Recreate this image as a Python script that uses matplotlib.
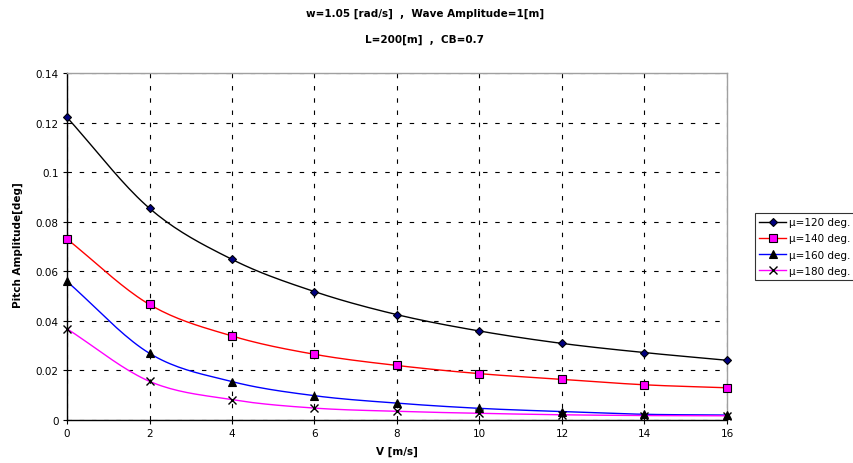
import numpy as np
import matplotlib
matplotlib.use("Agg")
import matplotlib.pyplot as plt

plt.rcParams['font.family'] = ['DejaVu Sans']

speeds = [0, 2, 4, 6, 8, 10, 12, 14, 16]
mu120 = [0.1221, 0.0854, 0.0648, 0.0518, 0.0425, 0.0359, 0.0309, 0.0272, 0.0241]
mu140 = [0.0730, 0.0466, 0.0339, 0.0265, 0.0220, 0.0187, 0.0164, 0.0142, 0.0130]
mu160 = [0.0559, 0.0269, 0.0155, 0.0098, 0.0068, 0.0047, 0.0034, 0.0023, 0.0020]
mu180 = [0.0368, 0.0156, 0.0082, 0.0048, 0.0035, 0.0027, 0.0021, 0.0018, 0.0017]
labels = ['μ=120 deg.', 'μ=140 deg.', 'μ=160 deg.', 'μ=180 deg.']
title_lines = ['w=1.05 [rad/s]  ,  Wave Amplitude=1[m]', 'L=200[m]  ,  CB=0.7']


def smooth(x, y, n=20):
    x = np.asarray(x, float); y = np.asarray(y, float)
    px = np.concatenate([[2 * x[0] - x[1]], x, [2 * x[-1] - x[-2]]])
    py = np.concatenate([[2 * y[0] - y[1]], y, [2 * y[-1] - y[-2]]])
    xs, ys = [], []
    t = np.linspace(0, 1, n, endpoint=False)
    for i in range(1, len(px) - 2):
        for arr, out in ((px, xs), (py, ys)):
            p0, p1, p2, p3 = arr[i - 1], arr[i], arr[i + 1], arr[i + 2]
            out.extend(0.5 * ((2 * p1) + (-p0 + p2) * t + (2 * p0 - 5 * p1 + 4 * p2 - p3) * t ** 2
                              + (-p0 + 3 * p1 - 3 * p2 + p3) * t ** 3))
    xs.append(x[-1]); ys.append(y[-1])
    return xs, ys


fig = plt.figure(figsize=(8.54, 4.64), dpi=100)
ax = fig.add_axes([67 / 854, 1 - 421 / 464, 660 / 854, 347 / 464])

styles = [
    dict(color='black', marker='D', mfc='#000080', mec='black', ms=4.5),
    dict(color='red', marker='s', mfc='#ff00ff', mec='black', ms=6),
    dict(color='blue', marker='^', mfc='black', mec='black', ms=6),
    dict(color='#ff00ff', marker='x', mfc='black', mec='black', ms=5.5, mew=1.0),
]
for data, lab, st in zip([mu120, mu140, mu160, mu180], labels, styles):
    sx, sy = smooth(speeds, data)
    ax.plot(sx, sy, color=st['color'], lw=1.0, zorder=3)
    ax.plot(speeds, data, linestyle='none', marker=st['marker'], mfc=st['mfc'], mec=st['mec'],
            ms=st['ms'], mew=st.get('mew', 0.8), zorder=4, clip_on=False)
    ax.plot([], [], color=st['color'], lw=1.0, marker=st['marker'], mfc=st['mfc'],
            mec=st['mec'], ms=st['ms'], mew=st.get('mew', 0.8), label=lab)

ax.set_xlim(0, 16)
ax.set_ylim(0, 0.14)
ax.set_xticks(speeds)
ax.set_yticks(np.arange(0, 0.141, 0.02))
ax.set_yticklabels(['0', '0.02', '0.04', '0.06', '0.08', '0.1', '0.12', '0.14'])
ax.tick_params(labelsize=7.5, length=3, width=0.8, direction='out', pad=3)
ax.grid(True, color='black', linestyle=(0, (4, 7)), lw=0.8)
ax.set_axisbelow(True)
for s in ['left', 'bottom']:
    ax.spines[s].set_color('black')
    ax.spines[s].set_linewidth(1.0)
for s in ['top', 'right']:
    ax.spines[s].set_color('#a0a0a0')
    ax.spines[s].set_linewidth(1.0)

fig.text(18 / 854, 1 - 245 / 464, 'Pitch Amplitude[deg]', rotation=90, ha='center', va='center',
         fontsize=7.5, fontweight='bold')
fig.text(397 / 854, 1 - 452 / 464, 'V [m/s]', ha='center', va='center', fontsize=7.5, fontweight='bold')
fig.text(425 / 854, 1 - 14 / 464, title_lines[0], ha='center', va='center', fontsize=7.5, fontweight='bold')
fig.text(425 / 854, 1 - 40 / 464, title_lines[1], ha='center', va='center', fontsize=7.5, fontweight='bold')

leg = fig.legend(loc='upper left', bbox_to_anchor=(755 / 854, 1 - 214 / 464), fontsize=7.5,
                 frameon=True, fancybox=False, edgecolor='black', borderpad=0.4,
                 labelspacing=0.6, handlelength=2.6, handletextpad=0.3, borderaxespad=0)
leg.get_frame().set_linewidth(0.8)

fig.savefig('out.png', dpi=100)
